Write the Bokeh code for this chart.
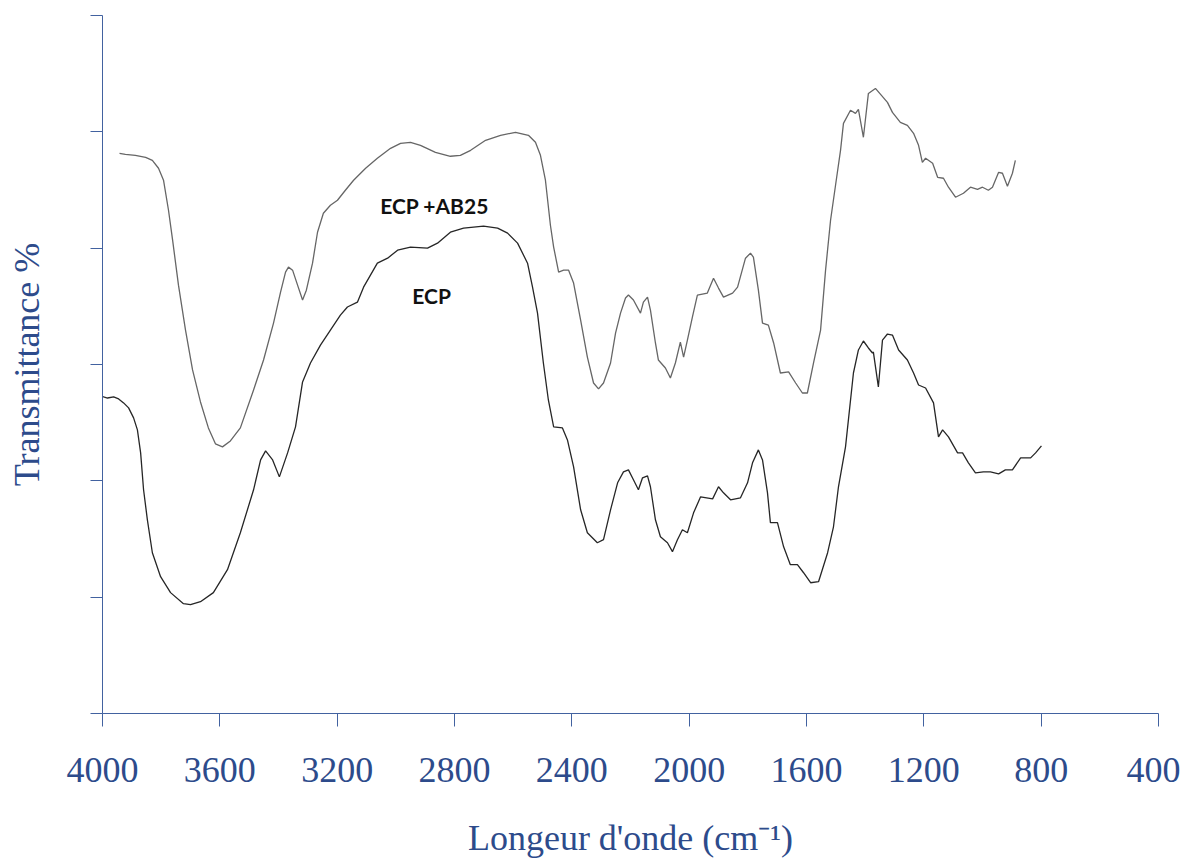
from bokeh.plotting import figure
from bokeh.models import Range1d, FixedTicker, Label
from bokeh.embed import file_html
from bokeh.resources import INLINE

# ECP + AB25 (upper spectrum)
wn_ab25 = [3942, 3922, 3888, 3853, 3830, 3809, 3792, 3775, 3761, 3741, 3717, 3693, 3666, 3639,
           3615, 3591, 3564, 3530, 3485, 3451, 3417, 3393, 3376, 3366, 3352, 3335, 3318, 3305,
           3284, 3267, 3247, 3223, 3199, 3172, 3144, 3103, 3063, 3018, 2984, 2950, 2916, 2865,
           2814, 2780, 2745, 2694, 2643, 2592, 2548, 2524, 2507, 2490, 2473, 2462, 2445, 2428,
           2411, 2394, 2370, 2347, 2326, 2309, 2292, 2268, 2251, 2234, 2217, 2207, 2190, 2166,
           2156, 2142, 2132, 2115, 2105, 2081, 2064, 2047, 2030, 2019, 2006, 1989, 1972, 1938,
           1917, 1900, 1883, 1852, 1835, 1808, 1791, 1781, 1764, 1750, 1730, 1712, 1689, 1661,
           1637, 1614, 1597, 1576, 1552, 1535, 1518, 1501, 1484, 1474, 1450, 1433, 1423, 1406,
           1389, 1365, 1324, 1307, 1280, 1256, 1235, 1218, 1205, 1194, 1170, 1153, 1133, 1116,
           1092, 1065, 1041, 1017, 1000, 980, 966, 945, 932, 915, 898, 888]
t_ab25 = [48.15, 48.07, 47.98, 47.81, 47.55, 46.87, 45.84, 43.26, 40.69, 36.82, 32.96, 29.53, 26.78, 24.55,
          23.18, 22.92, 23.43, 24.55, 27.81, 30.39, 33.56, 36.22, 37.94, 38.37, 38.11, 36.82, 35.54, 36.39,
          38.71, 41.37, 43.00, 43.69, 44.12, 44.98, 45.84, 46.87, 47.73, 48.58, 49.01, 49.10, 48.84, 48.24,
          47.90, 47.98, 48.41, 49.27, 49.70, 49.96, 49.70, 49.10, 47.98, 45.84, 41.97, 40.09, 37.94, 38.11,
          38.11, 37.00, 33.82, 30.64, 28.41, 27.90, 28.41, 30.13, 32.70, 34.42, 35.71, 35.97, 35.54, 34.42,
          35.36, 35.79, 34.68, 31.85, 30.39, 29.70, 28.84, 30.13, 31.93, 30.64, 32.10, 34.08, 35.97, 36.14,
          37.42, 36.57, 35.79, 36.14, 36.65, 39.14, 39.57, 39.23, 36.39, 33.56, 33.39, 31.85, 29.27, 29.36,
          28.41, 27.55, 27.55, 30.13, 32.96, 38.11, 42.40, 45.41, 48.41, 50.73, 51.85, 51.59, 51.93, 49.53,
          53.30, 53.73, 52.53, 51.67, 50.82, 50.56, 49.87, 48.84, 47.38, 47.73, 47.30, 46.09, 46.01, 45.24,
          44.38, 44.72, 45.24, 45.06, 45.24, 44.98, 45.24, 46.52, 46.44, 45.32, 46.44, 47.55]

# ECP (lower spectrum)
wn_ecp = [4031, 4007, 3983, 3962, 3945, 3928, 3911, 3894, 3881, 3870, 3860, 3847, 3830, 3802,
          3768, 3724, 3700, 3666, 3622, 3574, 3530, 3485, 3461, 3444, 3420, 3397, 3369, 3342,
          3318, 3291, 3257, 3223, 3189, 3165, 3131, 3110, 3063, 3028, 2994, 2950, 2892, 2858,
          2814, 2769, 2701, 2653, 2619, 2585, 2551, 2534, 2517, 2497, 2480, 2462, 2432, 2415,
          2394, 2370, 2347, 2313, 2292, 2268, 2244, 2224, 2207, 2190, 2173, 2159, 2142, 2132,
          2115, 2098, 2074, 2057, 2040, 2023, 2006, 1985, 1961, 1920, 1900, 1883, 1859, 1825,
          1801, 1784, 1764, 1750, 1733, 1723, 1699, 1678, 1655, 1631, 1610, 1586, 1559, 1528,
          1508, 1491, 1467, 1440, 1423, 1406, 1389, 1375, 1372, 1355, 1341, 1324, 1307, 1286,
          1256, 1235, 1218, 1194, 1167, 1150, 1136, 1116, 1085, 1068, 1048, 1024, 997, 973,
          945, 922, 898, 870, 836, 819, 799]
t_ecp = [27.12, 27.30, 27.12, 27.21, 27.04, 26.70, 26.27, 25.41, 24.38, 22.40, 19.23, 16.65, 13.82, 11.76,
         10.39, 9.44, 9.36, 9.61, 10.39, 12.36, 15.54, 19.23, 21.80, 22.58, 21.80, 20.34, 22.40, 24.64,
         28.50, 30.13, 31.67, 32.96, 34.25, 34.94, 35.36, 36.65, 38.71, 39.14, 39.83, 40.09, 40.00, 40.43,
         41.37, 41.72, 41.89, 41.72, 41.29, 40.43, 38.71, 36.65, 34.42, 30.13, 26.95, 24.64, 24.55, 23.52,
         21.20, 17.51, 15.54, 14.68, 14.94, 17.51, 19.83, 20.77, 20.94, 20.09, 19.23, 20.26, 20.43, 19.49,
         16.65, 15.19, 14.68, 13.91, 14.94, 15.79, 15.54, 17.25, 18.63, 18.45, 19.49, 18.97, 18.37, 18.54,
         19.83, 21.55, 22.66, 21.80, 18.97, 16.40, 16.40, 14.33, 12.79, 12.79, 12.10, 11.24, 11.33, 13.82,
         16.05, 19.49, 22.92, 29.27, 31.25, 32.02, 31.42, 30.99, 31.07, 28.07, 32.10, 32.62, 32.53, 31.25,
         30.39, 29.27, 28.24, 27.98, 26.70, 23.78, 24.38, 23.78, 22.40, 22.40, 21.55, 20.69, 20.77, 20.77,
         20.60, 20.94, 20.94, 21.97, 21.97, 22.40, 23.00]

x_ticks = [4000, 3600, 3200, 2800, 2400, 2000, 1600, 1200, 800, 400]
y_ticks = [0, 10, 20, 30, 40, 50, 60]

labels = ["ECP +AB25", "ECP"]
label_x = [2868, 2878]
label_y = [43.7, 35.9]

AXIS = "#4262a0"
TEXT = "#2d4b8b"

p = figure(width=1180, height=860, output_backend="svg", toolbar_location=None,
           x_range=Range1d(4000, 400), y_range=Range1d(0, 60),
           min_border_left=102, min_border_right=22, min_border_top=15, min_border_bottom=138)
p.outline_line_color = None
p.grid.visible = False
p.background_fill_color = "white"

p.line(wn_ab25, t_ab25, line_color="#666666", line_width=1.3)
p.line(wn_ecp, t_ecp, line_color="#262626", line_width=1.3)

for txt, lx, ly in zip(labels, label_x, label_y):
    p.add_layout(Label(x=lx, y=ly, text=txt, text_align="center", text_baseline="alphabetic",
                       text_font="Lato", text_font_style="bold", text_font_size="21px",
                       text_color="#111111"))

xa = p.xaxis[0]
xa.ticker = FixedTicker(ticks=x_ticks)
xa.minor_tick_line_color = None
xa.major_tick_in = 0
xa.major_tick_out = 13
xa.axis_line_color = AXIS
xa.major_tick_line_color = AXIS
xa.major_label_text_font = "Liberation Serif"
xa.major_label_text_font_size = "36px"
xa.major_label_text_color = TEXT
xa.major_label_standoff = 31
xa.axis_label = "Longeur d'onde (cm\u207b\u00b9)"
xa.axis_label_text_font = "Liberation Serif"
xa.axis_label_text_font_size = "36px"
xa.axis_label_text_font_style = "normal"
xa.axis_label_text_color = TEXT
xa.axis_label_standoff = 33

ya = p.yaxis[0]
ya.ticker = FixedTicker(ticks=y_ticks)
ya.minor_tick_line_color = None
ya.major_tick_in = 0
ya.major_tick_out = 12
ya.axis_line_color = AXIS
ya.major_tick_line_color = AXIS
ya.major_label_overrides = {t: "" for t in y_ticks}
ya.major_label_standoff = 0
ya.axis_label = "Transmittance %"
ya.axis_label_text_font = "Liberation Serif"
ya.axis_label_text_font_size = "36px"
ya.axis_label_text_font_style = "normal"
ya.axis_label_text_color = TEXT
ya.axis_label_standoff = 44

open("out.html", "w").write(file_html(p, INLINE))
